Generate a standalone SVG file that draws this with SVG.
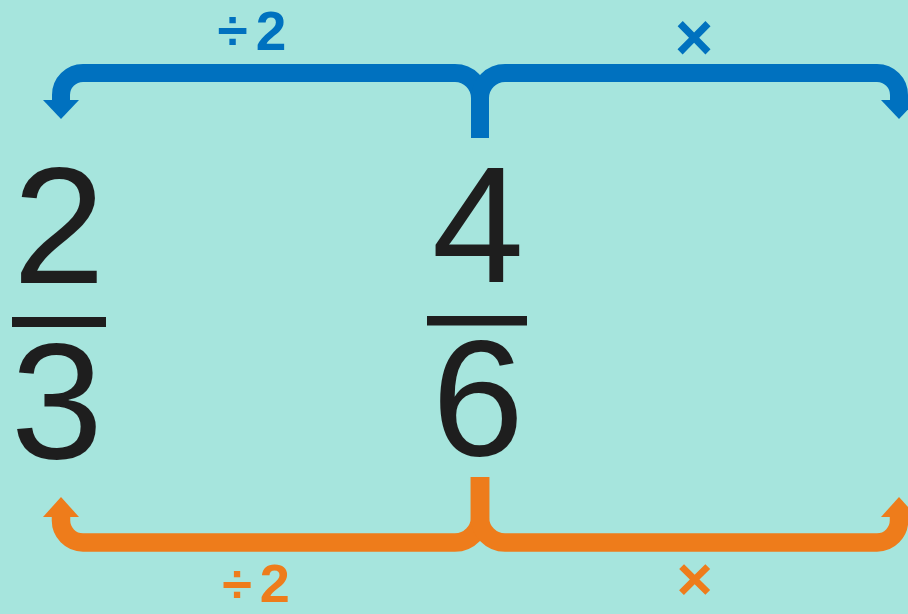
<svg xmlns="http://www.w3.org/2000/svg" width="908" height="614" viewBox="0 0 908 614">
  <style>
    .bg { fill: #a6e5dd; }
    .blue { stroke: #0071bf; fill: none; stroke-width: 18; stroke-linecap: butt; stroke-linejoin: round; }
    .orange { stroke: #ee7c1b; fill: none; stroke-width: 18.5; stroke-linecap: butt; stroke-linejoin: round; }
    .num { font-family: "Liberation Sans", Arial, sans-serif; font-size: 166px; fill: #1e1e1e; text-anchor: middle; }
    .bar { fill: #1e1e1e; }
    .lbl { font-family: "Liberation Sans", Arial, sans-serif; font-weight: bold; text-anchor: middle; }
    .lblb { fill: #0071bf; }
    .lblo { fill: #ee7c1b; }
  </style>
  <defs>
    <marker id="headBlue" markerUnits="userSpaceOnUse" orient="auto" refX="0" refY="0" markerWidth="40" markerHeight="40" overflow="visible">
      <path d="M0,-18 L19,0 L0,18 Z" fill="#0071bf"/>
    </marker>
    <marker id="headOrange" markerUnits="userSpaceOnUse" orient="auto" refX="0" refY="0" markerWidth="40" markerHeight="40" overflow="visible">
      <path d="M0,-18 L20,0 L0,18 Z" fill="#ee7c1b"/>
    </marker>
  </defs>
  <rect class="bg" x="0" y="0" width="908" height="614"/>

  <g id="connectors">
    <path class="blue" d="M480 138 V98 A25 25 0 0 0 455 73 H83 A22 22 0 0 0 61 95 V100" marker-end="url(#headBlue)"/>
    <path class="blue" d="M480 138 V98 A25 25 0 0 1 505 73 H877 A22 22 0 0 1 899 95 V100" marker-end="url(#headBlue)"/>
    <path class="orange" d="M480 477 V517 A25 25 0 0 1 455 542.5 H83 A22 22 0 0 1 61 520 V517" marker-end="url(#headOrange)"/>
    <path class="orange" d="M480 477 V517 A25 25 0 0 0 505 542.5 H877 A22 22 0 0 0 899 520 V517" marker-end="url(#headOrange)"/>
  </g>

  <g id="label-top-divide">
    <text class="lbl lblb" x="256" y="50" font-size="55" letter-spacing="8">÷2</text>
  </g>
  <g id="label-top-times">
    <text class="lbl lblb" x="694" y="60" font-size="66">×</text>
  </g>
  <g id="label-bottom-divide">
    <text class="lbl lblo" x="260" y="602" font-size="54" letter-spacing="8">÷2</text>
  </g>
  <g id="label-bottom-times">
    <text class="lbl lblo" x="694.5" y="600" font-size="62">×</text>
  </g>

  <g id="fraction-2-3">
    <text class="num" x="59" y="283">2</text>
    <rect class="bar" x="12" y="317" width="94" height="10"/>
    <text class="num" x="57" y="458">3</text>
  </g>
  <g id="fraction-4-6">
    <text class="num" x="478" y="282">4</text>
    <rect class="bar" x="427" y="316" width="100" height="9.5"/>
    <text class="num" x="478" y="455">6</text>
  </g>
</svg>
